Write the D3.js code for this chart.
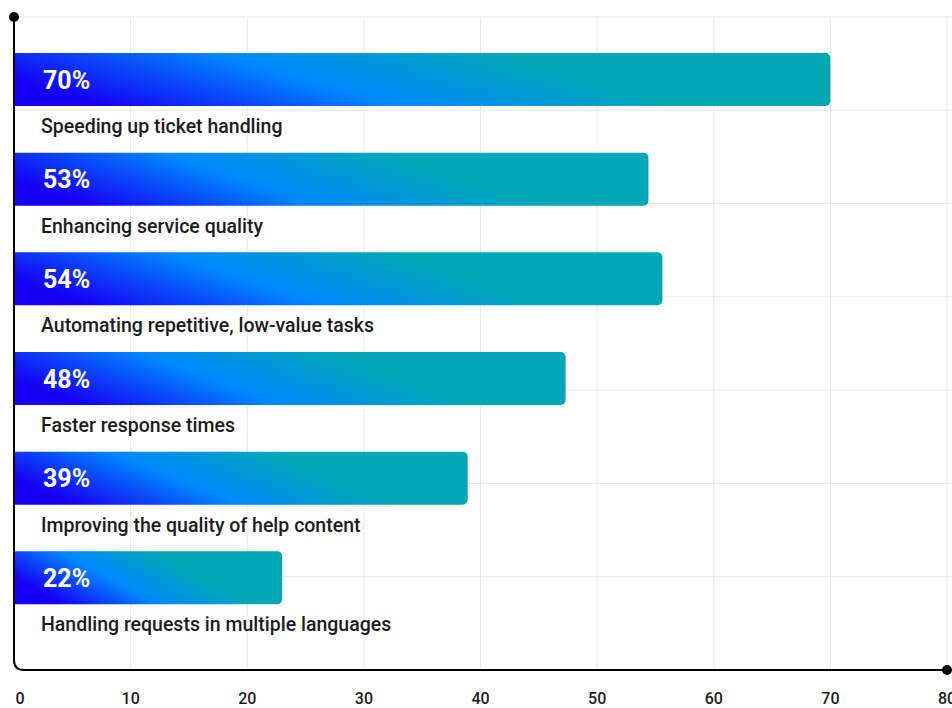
<!DOCTYPE html>
<html>
<head>
<meta charset="utf-8">
<script src="https://cdn.jsdelivr.net/npm/d3@7"></script>
<style>
  body { margin: 0; background: #fff; }
  text { font-family: Roboto, "Noto Sans", sans-serif; }
</style>
</head>
<body>
<svg id="svg1" width="952" height="708"></svg>
<script>
var categories = [
  "Speeding up ticket handling",
  "Enhancing service quality",
  "Automating repetitive, low-value tasks",
  "Faster response times",
  "Improving the quality of help content",
  "Handling requests in multiple languages"
];
var barValues = [70, 54.4, 55.6, 47.3, 38.9, 23];
var pctLabels = ["70%", "53%", "54%", "48%", "39%", "22%"];
var xTicks = [0, 10, 20, 30, 40, 50, 60, 70, 80];

var svg = d3.select("#svg1"),
    plotLeft = 14, plotRight = 947, plotTop = 17, plotBottom = 670;

var x = d3.scaleLinear().domain([0, 80]).range([plotLeft, plotRight]);
var y = d3.scaleBand().domain(categories).range([28, 626]);
var gridY = d3.scaleLinear().domain([0, 7]).range([plotBottom, plotTop]);
var barOff = 25, barH = 53;

var data = categories.map(function(c, i) {
  return {cat: c, value: barValues[i], label: pctLabels[i], i: i};
});

// grid
svg.append("g").selectAll("line")
    .data(xTicks.slice(1))
  .enter().append("line")
    .attr("x1", function(d) { return x(d); })
    .attr("x2", function(d) { return x(d); })
    .attr("y1", plotTop).attr("y2", plotBottom)
    .attr("stroke", "#e9e9e9").attr("stroke-width", 1);

svg.append("g").selectAll("line")
    .data(d3.range(1, 8))
  .enter().append("line")
    .attr("x1", plotLeft).attr("x2", 952)
    .attr("y1", function(d) { return gridY(d); })
    .attr("y2", function(d) { return gridY(d); })
    .attr("stroke", "#e9e9e9").attr("stroke-width", 1);

// gradients, one per bar, tilted
var defs = svg.append("defs");
data.forEach(function(d) {
  var x0 = x(0), W = x(d.value) - x0;
  var yMid = y(d.cat) + barOff + barH / 2;
  var s = 60 + 0.145 * W, k = s / barH, c = 1 / (1 + k * k);
  var grad = defs.append("linearGradient")
      .attr("id", "grad" + d.i)
      .attr("gradientUnits", "userSpaceOnUse")
      .attr("x1", x0).attr("y1", yMid)
      .attr("x2", x0 + W * c).attr("y2", yMid - k * W * c);
  grad.append("stop").attr("offset", 0).attr("stop-color", "#1600f4");
  grad.append("stop").attr("offset", 0.35).attr("stop-color", "#0087ff");
  grad.append("stop").attr("offset", 0.71).attr("stop-color", "#00a8b5");
  grad.append("stop").attr("offset", 1).attr("stop-color", "#00a8b5");
});

function barPath(d) {
  var x0 = x(0), x1 = x(d.value), y0 = y(d.cat) + barOff, y1 = y0 + barH, r = 5;
  return "M" + x0 + "," + y0 + "H" + (x1 - r) +
    "A" + r + "," + r + " 0 0 1 " + x1 + "," + (y0 + r) +
    "V" + (y1 - r) +
    "A" + r + "," + r + " 0 0 1 " + (x1 - r) + "," + y1 +
    "H" + x0 + "Z";
}

svg.append("g").selectAll("path")
    .data(data)
  .enter().append("path")
    .attr("d", barPath)
    .attr("fill", function(d) { return "url(#grad" + d.i + ")"; });

svg.append("g").selectAll("text")
    .data(data)
  .enter().append("text")
    .attr("x", 43)
    .attr("y", function(d) { return y(d.cat) + barOff + barH / 2; })
    .attr("dy", "0.36em")
    .attr("fill", "#fff")
    .attr("font-size", 25)
    .attr("font-weight", 700)
    .text(function(d) { return d.label; });

svg.append("g").selectAll("text")
    .data(data)
  .enter().append("text")
    .attr("x", 41)
    .attr("y", function(d) { return y(d.cat) + barOff + barH + 27; })
    .attr("fill", "#1c1c1c")
    .attr("font-size", 19.5)
    .attr("font-weight", 500)
    .text(function(d) { return d.cat; });

// axes
svg.append("path")
    .attr("d", "M" + plotLeft + "," + plotTop + "V" + (plotBottom - 10) +
      "Q" + plotLeft + "," + plotBottom + " " + (plotLeft + 10) + "," + plotBottom + "H" + plotRight)
    .attr("fill", "none").attr("stroke", "#000").attr("stroke-width", 2);
svg.append("circle").attr("cx", plotLeft).attr("cy", plotTop).attr("r", 5).attr("fill", "#000");
svg.append("circle").attr("cx", plotRight).attr("cy", plotBottom).attr("r", 5).attr("fill", "#000");

svg.append("g").selectAll("text")
    .data(xTicks)
  .enter().append("text")
    .attr("x", function(d) { return d === 0 ? x(d) + 6 : x(d); })
    .attr("y", 704)
    .attr("text-anchor", "middle")
    .attr("fill", "#1c1c1c")
    .attr("font-size", 16)
    .attr("font-weight", 500)
    .text(function(d) { return d; });
</script>
</body>
</html>
